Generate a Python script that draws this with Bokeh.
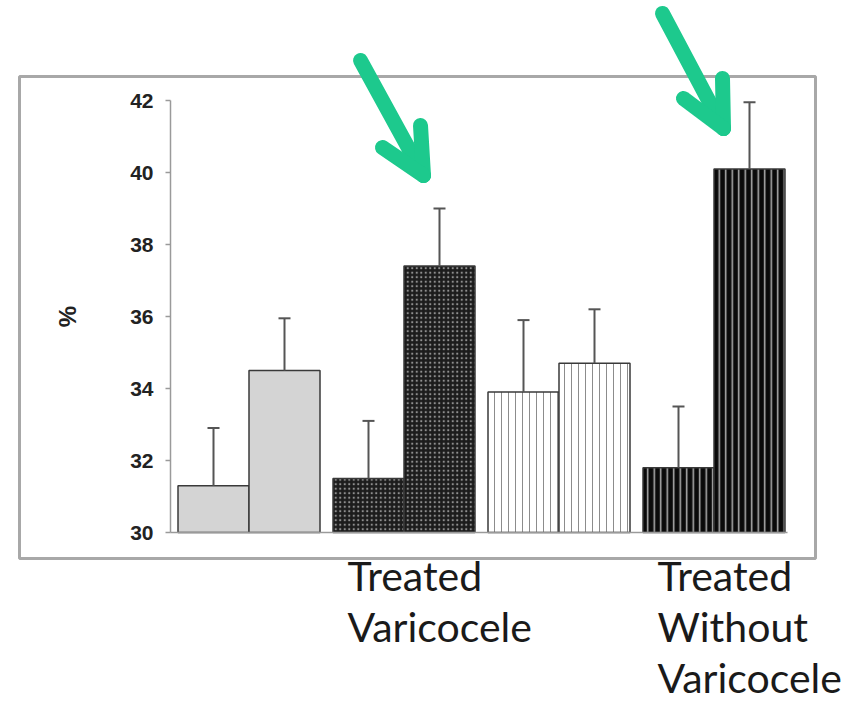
import numpy as np
from bokeh.plotting import figure
from bokeh.models import Range1d, LinearAxis, Whisker, ColumnDataSource, TeeHead, FixedTicker
from bokeh.core.properties import value
from bokeh.embed import file_html
from bokeh.resources import INLINE

# ---------------- data ----------------
group_labels = ["", "Treated\nVaricocele", "", "Treated\nWithout\nVaricocele"]
before_values = [31.3, 31.5, 33.9, 31.8]
after_values = [34.5, 37.4, 34.7, 40.1]
before_err_top = [32.9, 33.1, 35.9, 33.5]
after_err_top = [35.95, 39.0, 36.2, 41.95]
y_ticks = [30, 32, 34, 36, 38, 40, 42]
y_label = "%"

# ---------------- layout helpers ----------------
W, H = 845, 702
PX_PER_PAIR = 155.0      # pixels per group
PX_PER_UNIT = 36.0       # pixels per y unit
X0_PX, Y0_PX = 248.5, 532.0   # canvas pixel of (group 0 centre, y=30)


def px(sx, sy):
    """canvas pixel -> data coords (for decorations only)"""
    return (sx - X0_PX) / PX_PER_PAIR, 30 + (Y0_PX - sy) / PX_PER_UNIT


x_lo, y_hi = px(0, 0)
x_hi, y_lo = px(W, H)

p = figure(width=W, height=H, output_backend="svg", toolbar_location=None,
           x_range=Range1d(x_lo, x_hi), y_range=Range1d(y_lo, y_hi),
           x_axis_type=None, y_axis_type=None, min_border=0)
p.outline_line_color = None
p.background_fill_color = "white"
p.border_fill_color = "white"

# outer frame box
bl, bb = px(19, 558)
br, bt = px(815, 76)
p.quad(left=[bl], right=[br], top=[bt], bottom=[bb], fill_color=None,
       line_color="#a8a8a8", line_width=3)

# axes
axis_x, _ = px(170, 0)
axis_end, _ = px(787, 0)
yax = LinearAxis(fixed_location=axis_x, bounds=(30, 42), ticker=FixedTicker(ticks=y_ticks),
                 axis_line_color="#9a9a9a", axis_line_width=1.5,
                 major_tick_line_color="#9a9a9a", major_tick_line_width=1.5,
                 major_tick_out=5, major_tick_in=0, minor_tick_line_color=None,
                 major_label_text_font="Liberation Sans", major_label_text_font_style="bold",
                 major_label_text_font_size="21px", major_label_text_color="#222222",
                 major_label_standoff=12,
                 axis_label=y_label, axis_label_text_font="Liberation Sans",
                 axis_label_text_font_style="bold", axis_label_text_font_size="24px",
                 axis_label_text_color="#222222", axis_label_standoff=46)
p.add_layout(yax, "left")

xax = LinearAxis(fixed_location=30, bounds=(axis_x, axis_end), ticker=FixedTicker(ticks=[]),
                 axis_line_color="#9a9a9a", axis_line_width=1.5,
                 major_tick_line_color=None, minor_tick_line_color=None,
                 major_label_text_color=None)
p.add_layout(xax, "below")

# bars
styles = [
    dict(fill_color="#d4d4d4"),
    dict(fill_color="#1c1c1c", hatch_pattern="dot", hatch_color="#8f8f8f", hatch_scale=4.5, hatch_weight=1),
    dict(fill_color="white", hatch_pattern="vertical_line", hatch_color="#8c8c8c", hatch_scale=7, hatch_weight=1),
    dict(fill_color="#0a0a0a", hatch_pattern="vertical_line", hatch_color="#b4b4b4", hatch_scale=6.5, hatch_weight=1.5),
]
off = 35.5 / PX_PER_PAIR
bw = 71.0 / PX_PER_PAIR
groups = np.arange(len(before_values))
for i in groups:
    st = styles[i]
    p.vbar(x=[i - off, i + off], top=[before_values[i], after_values[i]], bottom=30, width=bw,
           line_color="#3a3a3a", line_width=1.5, **st)

# error bars (upper only)
err_src = ColumnDataSource(dict(
    x=list(groups - off) + list(groups + off),
    top=before_values + after_values,
    upper=before_err_top + after_err_top,
))
wh = Whisker(source=err_src, base="x", lower="top", upper="upper", dimension="height",
             line_color="#555555", line_width=2,
             upper_head=TeeHead(size=12, line_color="#555555", line_width=2), lower_head=None,
             level="overlay")
p.add_layout(wh)

# group labels
tx, ty, tt = [], [], []
_, base_y = px(0, 575)
line_step = 51.0 / PX_PER_UNIT
for i, lab in enumerate(group_labels):
    if not lab:
        continue
    for j, line in enumerate(lab.split("\n")):
        tx.append(i - 0.365)
        ty.append(base_y - j * line_step)
        tt.append(line)
p.text(x=tx, y=ty, text=tt, text_font=value("Lato"), text_font_size="41px",
       text_color="#1a1a1a", text_baseline="alphabetic", text_align="left")

# green arrows (decorations)
arrows_px = [
    [(360, 60), (423, 175), (420, 125), (382, 147)],
    [(662, 13), (723, 128), (722, 78), (683, 98)],
]
xs, ys = [], []
for tail, tip, h1, h2 in arrows_px:
    for a, b in [(tail, tip), (h1, tip), (h2, tip)]:
        (ax_, ay_), (bx_, by_) = px(*a), px(*b)
        xs.append([ax_, bx_])
        ys.append([ay_, by_])
p.multi_line(xs=xs, ys=ys, line_color="#1dc98d", line_width=15,
             line_cap="round", line_join="round")

open("out.html", "w").write(file_html(p, INLINE))
